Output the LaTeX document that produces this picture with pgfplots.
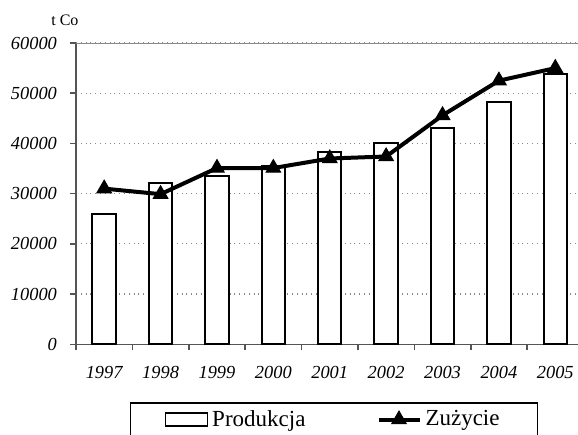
\documentclass[border=0pt]{standalone}
\usepackage{pgfplots}
\pgfplotsset{compat=1.18}
\usepackage{fontspec}
\setmainfont{Liberation Serif}
\definecolor{axgray}{HTML}{555555}
\definecolor{gridgray}{HTML}{888888}
\begin{document}
\begin{tikzpicture}
\begin{axis}[
  scale only axis,
  width=253.75pt, height=150.65pt,
  at={(0pt,0pt)}, anchor=south west,
  xmin=0, xmax=9, ymin=0, ymax=60000,
  axis lines*=left,
  axis line style={axgray, line width=0.8pt},
  xtick={0.5,1.5,...,8.5},
  xticklabels={1997,1998,1999,2000,2001,2002,2003,2004,2005},
  major x tick style={draw=none},
  minor xtick={0,1,...,9},
  minor x tick style={axgray, line width=0.8pt},
  minor tick length=3pt,
  ytick={0,10000,20000,30000,40000,50000,60000},
  yticklabels={{\itshape 0},{\itshape 10000},{\itshape 20000},{\itshape 30000},{\itshape 40000},{\itshape 50000},{\itshape 60000}},
  y tick style={axgray, line width=0.8pt},
  major tick length=3pt,
  tick align=outside,
  ymajorgrids,
  grid style={dotted, gridgray, line width=0.6pt},
  scaled y ticks=false,
  xticklabel style={font=\fontsize{9.2}{10}\selectfont\itshape, yshift=-4.5pt},
  yticklabel style={font=\fontsize{9.2}{10}\selectfont\itshape, xshift=-3pt, black},
  legend columns=2,
  legend style={at={(0.1064,-0.1925)}, anchor=north west,
    draw=black, line width=0.75pt, fill=white,
    font=\fontsize{11.5}{13}\selectfont,
    inner xsep=17pt, inner ysep=1.5pt,
    /tikz/every even column/.append style={column sep=33.5pt}},
]
\addplot[ybar, bar width=11.7pt, fill=white, draw=black, line width=1pt,
  legend image code/.code={\draw[line width=0.75pt, fill=white] (0pt,-3.25pt) rectangle (21pt,3.25pt);}]
  coordinates {(0.5,26000) (1.5,32100) (2.5,33500) (3.5,35500) (4.5,38300) (5.5,40000) (6.5,43000) (7.5,48300) (8.5,53800)};
\addlegendentry{Produkcja}
\addplot[black, line width=2pt, mark=triangle*, mark size=4.2pt, mark options={solid, line width=0.5pt},
  legend image code/.code={\draw[mark repeat=2, mark phase=2] plot coordinates {(0pt,0pt) (10.25pt,0pt) (20.5pt,0pt)};}]
  coordinates {(0.5,31000) (1.5,29900) (2.5,35100) (3.5,35100) (4.5,37000) (5.5,37400) (6.5,45600) (7.5,52500) (8.5,55000)};
\addlegendentry{Zużycie}
\draw[gridgray, line width=1pt] (rel axis cs:0,1) -- (rel axis cs:1,1);
\end{axis}
\node[font=\fontsize{8}{9}\selectfont] at (-5.55pt,161.9pt) {t Co};
\pgfresetboundingbox
\path[use as bounding box] (-38pt,-44.85pt) rectangle (251pt,172.15pt);
\end{tikzpicture}
\end{document}
